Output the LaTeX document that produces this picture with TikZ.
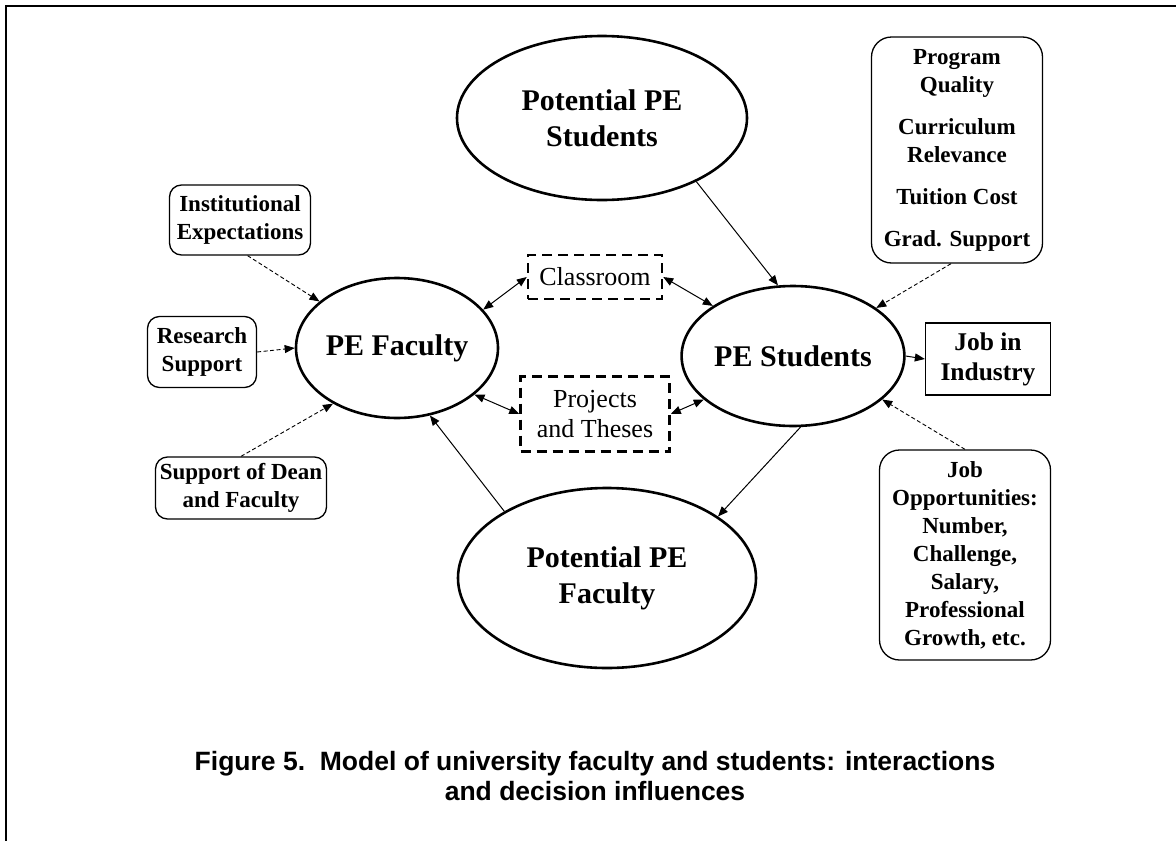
\documentclass[tikz,border=0pt]{standalone}
\usepackage{fontspec}
\setmainfont{Liberation Serif}
\newfontfamily\capfont{Liberation Sans}
\usetikzlibrary{shapes.geometric,arrows.meta}
\tikzset{
  bigell/.style={draw, ellipse, line width=2.6pt, inner sep=0pt, align=center, font=\fontsize{30}{36}\selectfont\bfseries},
  infobox/.style={draw, rounded corners=12pt, line width=1.3pt, inner sep=0pt, align=center, font=\fontsize{23}{28}\selectfont\bfseries},
  dashbox/.style={draw, line width=2.5pt, dash pattern=on 10pt off 6pt, inner sep=0pt, align=center, font=\fontsize{26}{30}\selectfont},
  flow/.style={line width=1pt, -{Triangle[length=10pt,width=8pt]}},
  twoway/.style={line width=1pt, {Triangle[length=10pt,width=8pt]}-{Triangle[length=10pt,width=8pt]}},
  infl/.style={line width=0.9pt, dash pattern=on 4pt off 2.5pt, -{Triangle[length=10pt,width=8pt]}}
}
\begin{document}
\begin{tikzpicture}[x=1pt,y=1pt]
\useasboundingbox (0,0) rectangle (1176,-841);
\draw[line width=2pt] (6,-841) -- (6,-6) -- (1176,-6);
\node[bigell, minimum width=290, minimum height=164] (pps) at (602,-118) {Potential PE\\Students};
\node[bigell, minimum width=202, minimum height=140] (fac) at (397,-348) {PE Faculty};
\node[bigell, minimum width=202, minimum height=140] (stu) at (793,-356) {PE Students};
\node[bigell, minimum width=298, minimum height=180] (ppf) at (607,-578) {Potential PE\\Faculty};
\node[dashbox, minimum width=134, minimum height=44] (cls) at (595,-277) {Classroom};
\node[dashbox, minimum width=149, minimum height=75] (prj) at (595,-414) {Projects\\and Theses};
\node[infobox, minimum width=141, minimum height=70] (inst) at (240,-220) {Institutional\\Expectations};
\node[infobox, minimum width=109, minimum height=71] (res) at (202,-352) {Research\\Support};
\node[infobox, minimum width=171, minimum height=62] (dean) at (241,-488) {Support of Dean\\and Faculty};
\node[infobox, rounded corners=20pt, minimum width=171, minimum height=226] (prog) at (957,-150) {Program\\Quality\\[14pt]Curriculum\\Relevance\\[14pt]Tuition Cost\\[14pt]Grad. Support};
\node[draw, line width=1.3pt, inner sep=0pt, align=center, font=\fontsize{25.5}{30}\selectfont\bfseries, minimum width=125, minimum height=72] (job) at (988,-359) {Job in\\Industry};
\node[infobox, rounded corners=20pt, minimum width=171, minimum height=210] (opp) at (965,-555) {Job\\Opportunities:\\Number,\\Challenge,\\Salary,\\Professional\\Growth, etc.};
\node[font=\capfont\bfseries\fontsize{26.5}{30}\selectfont, align=center] (cap) at (595,-776) {Figure 5.\ \ Model of university faculty and students: interactions\\and decision influences};
\draw[flow] (pps.-34) -- (stu.102);
\draw[flow] (stu.-84) -- (ppf.29);
\draw[flow] (ppf.147) -- (fac.-64);
\draw[flow] (stu.east) -- (job.west);
\draw[twoway] (fac.24) -- (cls.west);
\draw[twoway] (cls.east) -- (stu.148);
\draw[twoway] (fac.-31) -- (prj.west);
\draw[twoway] (prj.east) -- (stu.206);
\draw[infl] (inst.-78) -- (fac.149);
\draw[infl] (res.east) -- (fac.west);
\draw[infl] (dean.north) -- (fac.221);
\draw[infl] (prog.-93) -- (stu.30);
\draw[infl] (opp.north) -- (stu.-26);
\end{tikzpicture}
\end{document}
